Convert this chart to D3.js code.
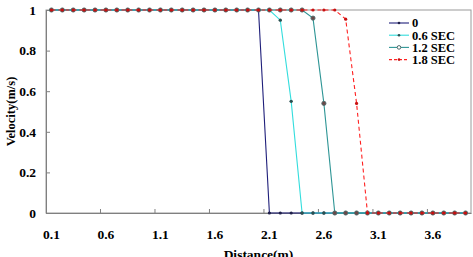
<!DOCTYPE html>
<html>
<head>
<meta charset="utf-8">
<script src="https://cdn.jsdelivr.net/npm/d3@7"></script>
<style>
    body { margin: 0; background: #fff; }
</style>
</head>
<body>
<svg id="chart"></svg>
<script>
const distance = ["0.1", "0.2", "0.3", "0.4", "0.5", "0.6", "0.7", "0.8", "0.9", "1.0",
    "1.1", "1.2", "1.3", "1.4", "1.5", "1.6", "1.7", "1.8", "1.9", "2.0",
    "2.1", "2.2", "2.3", "2.4", "2.5", "2.6", "2.7", "2.8", "2.9", "3.0",
    "3.1", "3.2", "3.3", "3.4", "3.5", "3.6", "3.7", "3.8", "3.9"];

const v0 = [1, 1, 1, 1, 1, 1, 1, 1, 1, 1, 1, 1, 1, 1, 1, 1, 1, 1, 1, 1,
    0, 0, 0, 0, 0, 0, 0, 0, 0, 0, 0, 0, 0, 0, 0, 0, 0, 0, 0];
const v06 = [1, 1, 1, 1, 1, 1, 1, 1, 1, 1, 1, 1, 1, 1, 1, 1, 1, 1, 1, 1,
    1, 0.95, 0.55, 0, 0, 0, 0, 0, 0, 0, 0, 0, 0, 0, 0, 0, 0, 0, 0];
const v12 = [1, 1, 1, 1, 1, 1, 1, 1, 1, 1, 1, 1, 1, 1, 1, 1, 1, 1, 1, 1,
    1, 1, 1, 1, 0.96, 0.54, 0, 0, 0, 0, 0, 0, 0, 0, 0, 0, 0, 0, 0];
const v18 = [1, 1, 1, 1, 1, 1, 1, 1, 1, 1, 1, 1, 1, 1, 1, 1, 1, 1, 1, 1,
    1, 1, 1, 1, 1, 1, 1, 0.955, 0.54, 0, 0, 0, 0, 0, 0, 0, 0, 0, 0];

const seriesNames = ["0", "0.6 SEC", "1.2 SEC", "1.8 SEC"];
const xTickLabels = ["0.1", "0.6", "1.1", "1.6", "2.1", "2.6", "3.1", "3.6"];
const yTicks = [0, 0.2, 0.4, 0.6, 0.8, 1];

const FONT = "'Liberation Serif', 'Times New Roman', 'DejaVu Serif', serif";

const width = 473, height = 257;
const margin = { top: 10, right: 2, bottom: 44, left: 46 };

const svg = d3.select("#chart")
    .attr("width", width)
    .attr("height", height);

const x = d3.scaleBand()
    .domain(distance)
    .range([margin.left, width - margin.right]);
const y = d3.scaleLinear()
    .domain([0, 1])
    .range([height - margin.bottom, margin.top]);

const cx = d => x(d) + x.bandwidth() / 2;

// plot frame
svg.append("rect")
    .attr("x", margin.left)
    .attr("y", margin.top)
    .attr("width", width - margin.right - margin.left)
    .attr("height", height - margin.bottom - margin.top)
    .attr("fill", "none")
    .attr("stroke", "#9a9a9a")
    .attr("stroke-width", 1);

// y axis
const yAxis = svg.append("g")
    .attr("transform", `translate(${margin.left},0)`)
    .call(d3.axisLeft(y).tickValues(yTicks).tickSizeInner(-4).tickSizeOuter(0).tickPadding(10).tickFormat(d3.format("")));
yAxis.attr("font-family", null).attr("font-size", null);
yAxis.select(".domain").attr("stroke", "#808080");
yAxis.selectAll(".tick line").attr("stroke", "#808080");
yAxis.selectAll("text")
    .style("font-family", FONT).style("font-weight", "bold").style("font-size", "13.5px")
    .attr("fill", "#000");

// x axis: labels at categories, tick marks between categories every 5
const xAxis = svg.append("g")
    .attr("transform", `translate(0,${height - margin.bottom})`)
    .call(d3.axisBottom(x).tickValues(xTickLabels).tickSize(0).tickPadding(16));
xAxis.attr("font-family", null).attr("font-size", null);
xAxis.select(".domain").attr("stroke", "#808080");
xAxis.selectAll("text")
    .style("font-family", FONT).style("font-weight", "bold").style("font-size", "13.5px")
    .attr("fill", "#000");

const boundaryTicks = distance.filter((d, i) => i > 0 && i % 5 === 0);
svg.append("g").selectAll("line")
    .data(boundaryTicks)
    .join("line")
    .attr("x1", d => x(d))
    .attr("x2", d => x(d))
    .attr("y1", height - margin.bottom)
    .attr("y2", height - margin.bottom - 4)
    .attr("stroke", "#808080");

// axis titles
svg.append("text")
    .attr("transform", "rotate(-90)")
    .attr("x", -(margin.top + height - margin.bottom) / 2)
    .attr("y", 15)
    .attr("text-anchor", "middle")
    .style("font-family", FONT).style("font-weight", "bold")
    .style("font-size", "12.5px")
    .text("Velocity(m/s)");

svg.append("text")
    .attr("x", (margin.left + width - margin.right) / 2)
    .attr("y", 259)
    .attr("text-anchor", "middle")
    .style("font-family", FONT).style("font-weight", "bold")
    .style("font-size", "13.5px")
    .text("Distance(m)");

const series = [
    { name: seriesNames[0], values: v0, color: "#1f1f7a", dash: null, ring: false, mfill: "#1f1f4a", r: 1.6 },
    { name: seriesNames[1], values: v06, color: "#33dddd", dash: null, ring: false, mfill: "#2a5050", r: 1.7 },
    { name: seriesNames[2], values: v12, color: "#2e9595", dash: null, ring: true, mfill: "#506a6a", r: 2.1 },
    { name: seriesNames[3], values: v18, color: "#ff2020", dash: "4,3", ring: false, mfill: "#c81010", r: 1.6 }
];

const line = d3.line()
    .x(d => cx(d.x))
    .y(d => y(d.v));

series.forEach(s => {
    const pts = distance.map((d, i) => ({ x: d, v: s.values[i] }));
    svg.append("path")
        .datum(pts)
        .attr("fill", "none")
        .attr("stroke", s.color)
        .attr("stroke-width", 1.1)
        .attr("stroke-dasharray", s.dash)
        .attr("d", line);

    svg.append("g").selectAll("circle")
        .data(pts)
        .join("circle")
        .attr("cx", d => cx(d.x))
        .attr("cy", d => y(d.v))
        .attr("r", s.r)
        .attr("fill", s.ring ? "#6a4848" : s.mfill)
        .attr("stroke", s.ring ? s.mfill : "none")
        .attr("stroke-width", 0.9);
});

// legend
const legend = svg.append("g");
series.forEach((s, i) => {
    const ly = 23 + i * 12.2;
    legend.append("line")
        .attr("x1", 389).attr("x2", 409)
        .attr("y1", ly).attr("y2", ly)
        .attr("stroke", s.color)
        .attr("stroke-width", 1.1)
        .attr("stroke-dasharray", s.dash ? "3,2" : null);
    legend.append("circle")
        .attr("cx", 399).attr("cy", ly)
        .attr("r", s.ring ? 1.8 : 1.3)
        .attr("fill", s.ring ? "#fff" : s.mfill)
        .attr("stroke", s.ring ? s.mfill : "none");
    legend.append("text")
        .attr("x", 412)
        .attr("y", ly + 4.3)
        .style("font-family", FONT).style("font-weight", "bold")
        .style("font-size", "12.5px")
        .text(s.name);
});
</script>
</body>
</html>
